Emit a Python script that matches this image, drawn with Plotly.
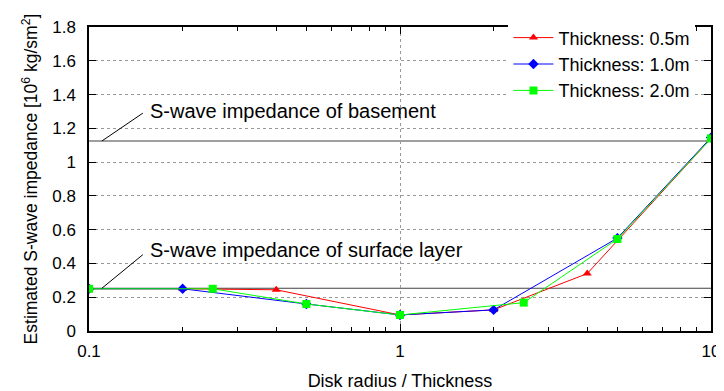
import plotly.graph_objects as go

# Data
x_05 = [0.1, 0.2, 0.4, 1.0, 2.0, 4.0, 10.0]
y_05 = [0.25, 0.25, 0.244, 0.095, 0.125, 0.34, 1.14]

x_10 = [0.1, 0.2, 0.5, 1.0, 2.0, 5.0, 10.0]
y_10 = [0.25, 0.25, 0.16, 0.095, 0.125, 0.55, 1.145]

x_20 = [0.1, 0.25, 0.5, 1.0, 2.5, 5.0, 10.0]
y_20 = [0.25, 0.25, 0.16, 0.095, 0.168, 0.545, 1.14]

basement_impedance = 1.125
surface_impedance = 0.253

y_ticks = [0, 0.2, 0.4, 0.6, 0.8, 1, 1.2, 1.4, 1.6, 1.8]
y_tick_labels = ["0", "0.2", "0.4", "0.6", "0.8", "1", "1.2", "1.4", "1.6", "1.8"]
x_ticks = [0.1, 1, 10]
x_tick_labels = ["0.1", "1", "10"]
x_minor_ticks = [0.2, 0.3, 0.4, 0.5, 0.6, 0.7, 0.8, 0.9, 2, 3, 4, 5, 6, 7, 8, 9]

FONT = "Liberation Sans, Arial, sans-serif"

fig = go.Figure()

fig.add_trace(go.Scatter(x=x_05, y=y_05, mode="lines+markers", name="Thickness: 0.5m",
                         line=dict(color="#ff0000", width=1),
                         marker=dict(symbol="triangle-up", size=8, color="#ff0000")))
fig.add_trace(go.Scatter(x=x_10, y=y_10, mode="lines+markers", name="Thickness: 1.0m",
                         line=dict(color="#0000ff", width=1),
                         marker=dict(symbol="diamond", size=8, color="#0000ff")))
fig.add_trace(go.Scatter(x=x_20, y=y_20, mode="lines+markers", name="Thickness: 2.0m",
                         line=dict(color="#00ff00", width=1),
                         marker=dict(symbol="square", size=8, color="#00ff00")))

# Reference horizontal lines
for yv in (basement_impedance, surface_impedance):
    fig.add_shape(type="line", xref="paper", yref="y", x0=0, x1=1, y0=yv, y1=yv,
                  line=dict(color="#404040", width=1.2), layer="below")

# Annotation pointer lines
fig.add_shape(type="line", xref="x", yref="y", x0=0.11, x1=0.149,
              y0=basement_impedance, y1=1.29, line=dict(color="black", width=1))
fig.add_shape(type="line", xref="x", yref="y", x0=0.11, x1=0.149,
              y0=surface_impedance, y1=0.452, line=dict(color="black", width=1))

fig.add_annotation(x=-0.81, y=1.3, xref="x", yref="y", text="S-wave impedance of basement",
                   showarrow=False, xanchor="left", yanchor="middle",
                   font=dict(size=20, color="black", family=FONT))
fig.add_annotation(x=-0.81, y=0.482, xref="x", yref="y", text="S-wave impedance of surface layer",
                   showarrow=False, xanchor="left", yanchor="middle",
                   font=dict(size=20, color="black", family=FONT))

# The page body has an 8px margin, so the figure is sized to fit the 724x391 window.
fig.update_layout(
    width=716, height=383,
    margin=dict(l=81, r=13, t=19, b=60, autoexpand=False),
    paper_bgcolor="white", plot_bgcolor="white",
    font=dict(family=FONT, size=17, color="black"),
    showlegend=True,
    legend=dict(x=0.975, xanchor="right", y=1.025, yanchor="top",
                bgcolor="white", borderwidth=0, font=dict(size=18),
                tracegroupgap=0, itemwidth=40),
)

fig.update_xaxes(type="log", range=[-1, 1], tickvals=x_ticks, ticktext=x_tick_labels,
                 ticks="inside", ticklen=7, tickcolor="black", mirror="allticks",
                 showline=True, linecolor="black", linewidth=1.5,
                 showgrid=True, gridcolor="#999999", griddash="dot", gridwidth=1,
                 minor=dict(tickvals=x_minor_ticks, ticks="inside", ticklen=4,
                            tickcolor="black", showgrid=False),
                 zeroline=False, automargin=False, ticklabelstandoff=4,
                 title=dict(text="Disk radius / Thickness", font=dict(size=18), standoff=14),
                 tickfont=dict(size=17))
fig.update_yaxes(range=[0, 1.8], tickvals=y_ticks, ticktext=y_tick_labels,
                 ticks="inside", ticklen=7, tickcolor="black", mirror="allticks",
                 showline=True, linecolor="black", linewidth=1.5,
                 showgrid=True, gridcolor="#999999", griddash="dot", gridwidth=1,
                 zeroline=False, automargin=False, ticklabelstandoff=8,
                 title=dict(text="Estimated S-wave impedance [10<sup>6</sup> kg/sm<sup>2</sup>]",
                            font=dict(size=17.5), standoff=10),
                 tickfont=dict(size=17))

fig.write_html("out.html")
